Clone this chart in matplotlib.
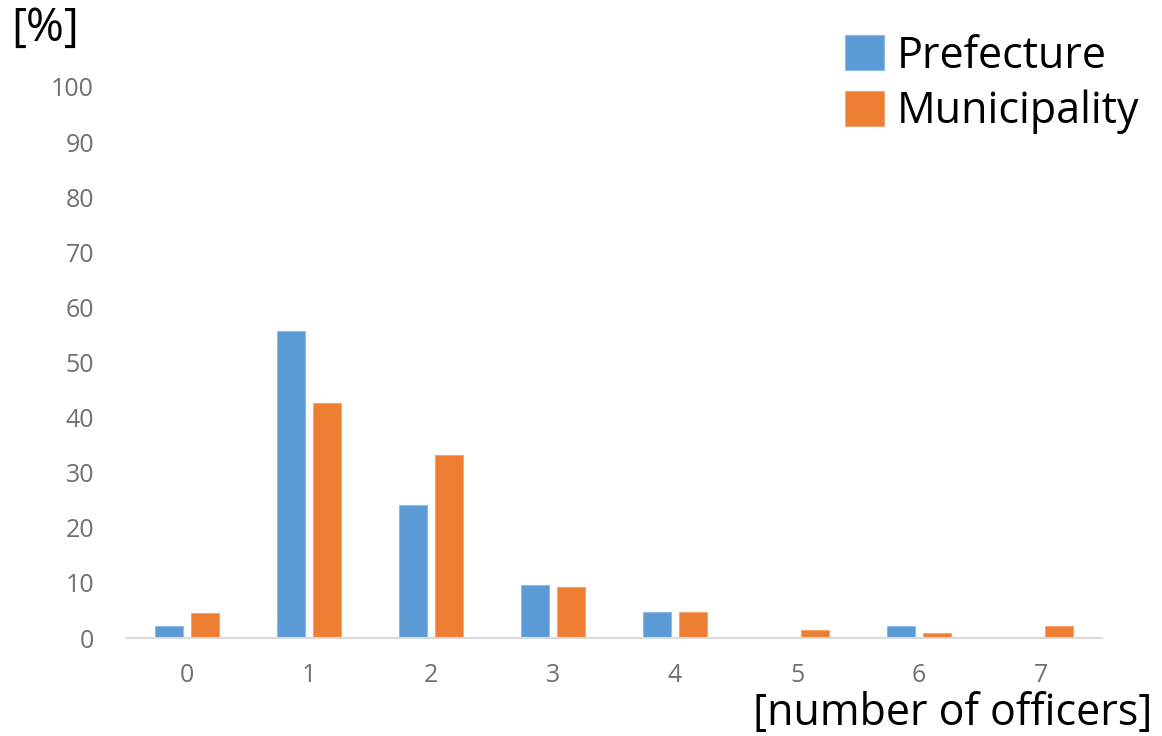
import matplotlib
matplotlib.use("Agg")
import matplotlib.pyplot as plt
import numpy as np

plt.rcParams['font.family'] = ['Open Sans', 'DejaVu Sans']

officers = [0, 1, 2, 3, 4, 5, 6, 7]
tick_labels = ["0", "1", "2", "3", "4", "5", "6", "7"]
prefecture = [2.2, 55.8, 24.2, 9.7, 4.7, 0.0, 2.2, 0.0]
municipality = [4.5, 42.7, 33.3, 9.2, 4.7, 1.5, 0.9, 2.2]
series_names = ["Prefecture", "Municipality"]
yticks = [0, 10, 20, 30, 40, 50, 60, 70, 80, 90, 100]

blue = "#5B9BD5"
orange = "#ED7D31"

W, H = 1162, 736
fig = plt.figure(figsize=(W / 100, H / 100), dpi=100)
ax = fig.add_axes([126 / W, 98 / H, 976 / W, 551 / H])

x = np.arange(len(officers))
bw = 0.226
off = 0.146
ax.bar(x - off, prefecture, width=bw, color=blue, edgecolor="#8DBBE6",
       linewidth=0.8, label=series_names[0], zorder=3)
ax.bar(x + off, municipality, width=bw, color=orange, edgecolor="#F4A672",
       linewidth=0.8, label=series_names[1], zorder=3)

ax.set_xlim(-0.5, len(officers) - 0.5)
ax.set_ylim(0, 100)
ax.set_yticks(yticks)
ax.set_xticks(x)
ax.set_xticklabels(tick_labels)

for s in ["top", "right", "left"]:
    ax.spines[s].set_visible(False)
ax.spines["bottom"].set_color("#D9D9D9")
ax.spines["bottom"].set_linewidth(1.5)
ax.spines["bottom"].set_zorder(4)

ax.tick_params(axis="both", length=0, labelsize=18, labelcolor="#707070")
ax.tick_params(axis="y", pad=23)
ax.tick_params(axis="x", pad=18)

fig.text(11 / W, 1 - 6 / H, "[%]", fontsize=33, va="top", ha="left", color="black")
fig.text(1152 / W, 0 / H, "[number of officers]", fontsize=31, va="bottom",
         ha="right", color="black")

leg = ax.legend(loc="upper right", bbox_to_anchor=(1139 / W, 1 - 34 / H),
                bbox_transform=fig.transFigure, frameon=False, fontsize=31,
                handlelength=0.9, handleheight=0.87, handletextpad=0.3,
                labelspacing=0.26, borderaxespad=0, borderpad=0)

fig.savefig("out.png", dpi=100)
